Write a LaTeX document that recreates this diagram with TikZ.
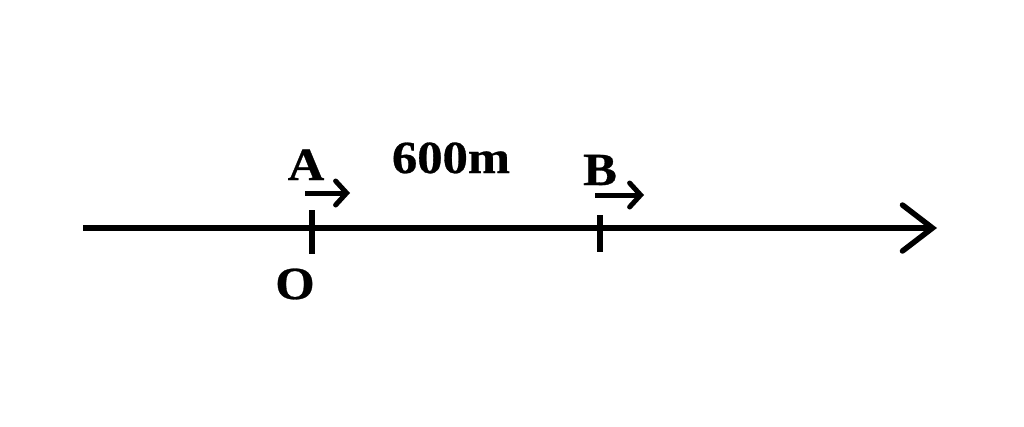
\documentclass[tikz,border=0pt]{standalone}
\usepackage{fontspec}
\setmainfont{Liberation Serif}
\newfontfamily\lblfont[BoldFeatures={FakeBold=0.6}]{Liberation Serif}
\usetikzlibrary{arrows.meta}
\begin{document}
\begin{tikzpicture}[x=1pt,y=-1pt,
  axisline/.style={line width=5.5pt},
  tickline/.style={line width=5.5pt},
  vec/.style={line width=5pt,-{Straight Barb[length=11pt,width=24pt,line cap=round]}},
  lbl/.style={anchor=base,inner sep=0pt,xscale=1.1,font=\fontsize{46}{46}\lblfont\bfseries}]
\useasboundingbox (0,0) rectangle (1024,426);
\fill[white] (0,0) rectangle (1024,426);
\coordinate (L) at (83,228);
\coordinate (R) at (937,228);
\draw[axisline,-{Straight Barb[length=30pt,width=46pt,line cap=round]}] (L) -- (R);
\coordinate (ta1) at (312,210);
\coordinate (ta2) at (312,254);
\coordinate (tb1) at (600,215);
\coordinate (tb2) at (600,252);
\draw[tickline] (ta1) -- (ta2);
\draw[tickline] (tb1) -- (tb2);
\node[lbl] (A) at (306,180) {A};
\node[lbl] (B) at (600,185) {B};
\node[lbl] (D) at (451,173) {600m};
\node[lbl] (O) at (295,299) {O};
\coordinate (va1) at (305,193);
\coordinate (va2) at (350,193);
\coordinate (vb1) at (595,195);
\coordinate (vb2) at (644,195);
\draw[vec] (va1) -- (va2);
\draw[vec] (vb1) -- (vb2);
\end{tikzpicture}
\end{document}
